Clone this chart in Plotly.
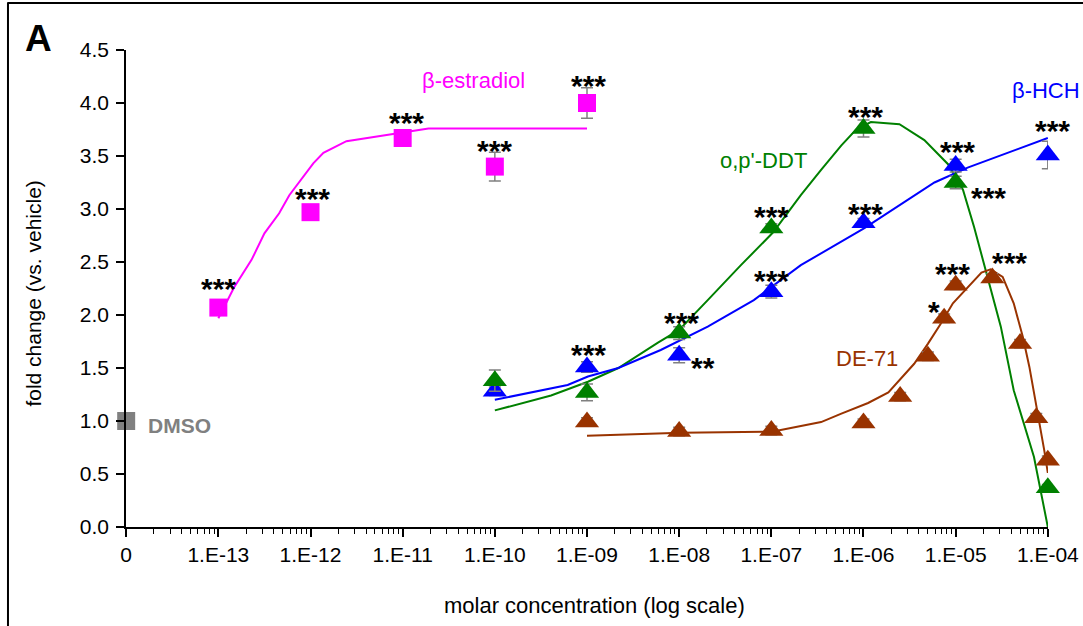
import numpy as np
import plotly.graph_objects as go

# ---- measured responses (fold change vs. vehicle) ----
e2_conc = [1e-13, 1e-12, 1e-11, 1e-10, 1e-9]
e2_fold = [2.07, 2.97, 3.67, 3.40, 4.00]
e2_err = [0.02, 0.02, 0.05, 0.135, 0.145]
e2_sig = ["***", "***", "***", "***", "***"]

ddt_conc = [1e-10, 1e-9, 1e-8, 1e-7, 1e-6, 1e-5, 1e-4]
ddt_fold = [1.38, 1.27, 1.83, 2.82, 3.76, 3.25, 0.37]
ddt_err = [0.10, 0.08, 0.06, 0.04, 0.08, 0.06, 0.03]
ddt_sig = ["", "", "***", "***", "***", "***", ""]

hch_conc = [1e-10, 1e-9, 1e-8, 1e-7, 1e-6, 1e-5, 1e-4]
hch_fold = [1.28, 1.51, 1.62, 2.22, 2.87, 3.41, 3.51]
hch_err = [0.04, 0.05, 0.07, 0.06, 0.04, 0.06, 0.13]
hch_sig = ["", "***", "**", "***", "***", "***", "***"]

de71_conc = [1e-9, 1e-8, 1e-7, 1e-6, 2.5e-6, 5e-6, 7.5e-6, 1e-5, 2.5e-5, 5e-5, 7.5e-5, 1e-4]
de71_fold = [0.99, 0.90, 0.91, 0.98, 1.23, 1.61, 1.97, 2.28, 2.35, 1.73, 1.03, 0.63]
de71_err = [0.04, 0.04, 0.04, 0.04, 0.04, 0.04, 0.04, 0.04, 0.04, 0.04, 0.04, 0.04]
de71_sig = ["", "", "", "", "", "", "*", "***", "***", "", "", ""]

dmso_conc = [1e-14]
dmso_fold = [1.0]

# ---- fitted concentration-response curves (log10 M, fold) ----
e2_fit_logm = [-13.0, -12.83, -12.64, -12.5, -12.34, -12.23, -11.97, -11.86, -11.61, -11.02, -10.72, -9.0]
e2_fit_fold = [1.97, 2.26, 2.52, 2.77, 2.96, 3.13, 3.43, 3.53, 3.64, 3.72, 3.76, 3.76]

ddt_fit_logm = [-10.0, -9.39, -8.99, -8.66, -8.23, -8.0, -7.69, -7.33, -6.98, -6.68, -6.46, -6.24,
                -6.08, -5.92, -5.61, -5.34, -5.08, -4.92, -4.80, -4.67, -4.51, -4.37, -4.15, -4.0]
ddt_fit_fold = [1.10, 1.24, 1.37, 1.50, 1.74, 1.86, 2.14, 2.47, 2.78, 3.13, 3.37, 3.60,
                3.75, 3.82, 3.80, 3.65, 3.42, 3.18, 2.83, 2.40, 1.89, 1.29, 0.66, 0.0]

hch_fit_logm = [-10.0, -9.40, -9.21, -8.99, -8.66, -8.20, -7.69, -7.19, -6.68, -5.99, -5.23, -4.87, -4.0]
hch_fit_fold = [1.20, 1.31, 1.34, 1.42, 1.50, 1.67, 1.89, 2.14, 2.47, 2.82, 3.25, 3.39, 3.67]

de71_fit_logm = [-9.0, -7.98, -6.98, -6.68, -6.46, -6.24, -5.95, -5.73, -5.59, -5.45, -5.30, -5.16,
                 -5.03, -4.87, -4.72, -4.62, -4.49, -4.37, -4.27, -4.20, -4.11, -4.04, -4.0]
de71_fit_fold = [0.86, 0.89, 0.90, 0.95, 0.99, 1.07, 1.17, 1.27, 1.40, 1.54, 1.73, 1.92,
                 2.11, 2.26, 2.40, 2.43, 2.36, 2.11, 1.79, 1.51, 1.08, 0.73, 0.51]

# ---- axis labels ----
x_tick_vals = [1e-14, 1e-13, 1e-12, 1e-11, 1e-10, 1e-9, 1e-8, 1e-7, 1e-6, 1e-5, 1e-4]
x_tick_text = ["0", "1.E-13", "1.E-12", "1.E-11", "1.E-10", "1.E-09",
               "1.E-08", "1.E-07", "1.E-06", "1.E-05", "1.E-04"]
y_tick_vals = [0.0, 0.5, 1.0, 1.5, 2.0, 2.5, 3.0, 3.5, 4.0, 4.5]
y_tick_text = ["0.0", "0.5", "1.0", "1.5", "2.0", "2.5", "3.0", "3.5", "4.0", "4.5"]

FONT = "Arial, Liberation Sans, sans-serif"
MAGENTA = "#FF00FF"
GREEN = "#008000"
BLUE = "#0000FF"
BROWN = "#993300"
GREY = "#808080"

fig = go.Figure()


def fit_line(logm, fold, color):
    fig.add_trace(go.Scatter(
        x=10 ** np.array(logm), y=fold, mode="lines",
        line=dict(color=color, width=2), hoverinfo="skip", cliponaxis=False,
    ))


def points(conc, fold, err, color, symbol, size):
    fig.add_trace(go.Scatter(
        x=conc, y=fold, mode="markers", cliponaxis=False,
        marker=dict(color=color, symbol=symbol, size=size, line=dict(width=0)),
        error_y=dict(type="data", array=err, visible=True, color=GREY, thickness=1.5, width=6),
    ))


fit_line(e2_fit_logm, e2_fit_fold, MAGENTA)
fit_line(ddt_fit_logm, ddt_fit_fold, GREEN)
fit_line(hch_fit_logm, hch_fit_fold, BLUE)
fit_line(de71_fit_logm, de71_fit_fold, BROWN)

points(e2_conc, e2_fold, e2_err, MAGENTA, "square", 18)
points(hch_conc, hch_fold, hch_err, BLUE, "triangle-up", 21)
points(ddt_conc, ddt_fold, ddt_err, GREEN, "triangle-up", 21)
points(de71_conc, de71_fold, de71_err, BROWN, "triangle-up", 21)
points(dmso_conc, dmso_fold, [0], GREY, "square", 18)

annotations = []

# significance marks: (dx, dy) pixel offsets of each label from its point
e2_sig_shift = [(0, 19), (2, 14), (4, 15), (0, 16), (1, 18)]
ddt_sig_shift = [None, None, (2, 11), (0, 12), (2, 12), (33, -15), None]
hch_sig_shift = [None, (1, 12), (24, -12), (0, 11), (2, 9), (2, 14), (5, 24)]
de71_sig_shift = [None] * 6 + [(-10, 7), (-3, 12), (17, 15)] + [None] * 3

for conc, fold, sig, shift in [
    (e2_conc, e2_fold, e2_sig, e2_sig_shift),
    (ddt_conc, ddt_fold, ddt_sig, ddt_sig_shift),
    (hch_conc, hch_fold, hch_sig, hch_sig_shift),
    (de71_conc, de71_fold, de71_sig, de71_sig_shift),
]:
    for c, f, s, sh in zip(conc, fold, sig, shift):
        if not s:
            continue
        annotations.append(dict(
            x=np.log10(c), y=f, xref="x", yref="y", text=s, showarrow=False,
            xshift=sh[0], yshift=sh[1], xanchor="center", yanchor="middle",
            font=dict(family=FONT, size=30, color="black", weight="bold"),
        ))

# series names
series_labels = [
    ("β-estradiol", -10.236, 4.217, MAGENTA, "normal"),
    ("o,p'-DDT", -7.08, 3.46, GREEN, "normal"),
    ("β-HCH", -4.02, 4.12, BLUE, "normal"),
    ("DE-71", -5.963, 1.594, BROWN, "normal"),
    ("DMSO", -13.425, 0.962, GREY, "bold"),
]
for text, lx, ly, color, weight in series_labels:
    annotations.append(dict(
        x=lx, y=ly, xref="x", yref="y", text=text, showarrow=False,
        xanchor="center", yanchor="middle",
        font=dict(family=FONT, size=22 if weight == "normal" else 21, color=color, weight=weight),
    ))

# panel letter and axis titles
annotations.append(dict(
    x=-0.0954, y=1.025, xref="paper", yref="paper", text="A", showarrow=False,
    xanchor="center", yanchor="middle",
    font=dict(family=FONT, size=37, color="black", weight="bold"),
))
annotations.append(dict(
    x=0.508, y=-0.165, xref="paper", yref="paper", text="molar concentration (log scale)",
    showarrow=False, xanchor="center", yanchor="middle",
    font=dict(family=FONT, size=22, color="black"),
))
annotations.append(dict(
    x=-0.1005, y=0.49, xref="paper", yref="paper", text="fold change (vs. vehicle)",
    showarrow=False, xanchor="center", yanchor="middle", textangle=-90,
    font=dict(family=FONT, size=21, color="black"),
))

minor_vals = [k * 10.0 ** d for d in range(-14, -4) for k in range(2, 10)]

fig.update_layout(
    template="none",
    width=1083, height=626,
    margin=dict(l=126, r=35, t=50, b=99, autoexpand=False),
    paper_bgcolor="white", plot_bgcolor="white",
    showlegend=False,
    annotations=annotations,
    shapes=[
        dict(type="line", xref="paper", yref="paper", x0=-0.128, x1=1.1, y0=1.0985, y1=1.0985,
             line=dict(color="black", width=2)),
        dict(type="line", xref="paper", yref="paper", x0=-0.128, x1=-0.128, y0=1.1, y1=-0.22,
             line=dict(color="black", width=2)),
    ],
    xaxis=dict(
        type="log", range=[-14.002, -3.998], automargin=False,
        tickmode="array", tickvals=x_tick_vals, ticktext=x_tick_text,
        ticks="outside", ticklen=8, tickwidth=1.5, tickcolor="black",
        showline=True, linecolor="black", linewidth=1.5,
        showgrid=False, zeroline=False,
        tickfont=dict(family=FONT, size=21, color="black"),
        minor=dict(tickmode="array", tickvals=minor_vals, ticks="outside", ticklen=5,
                   tickwidth=1, tickcolor="black", showgrid=False),
    ),
    yaxis=dict(
        range=[0, 4.5], automargin=False,
        tickmode="array", tickvals=y_tick_vals, ticktext=y_tick_text,
        ticks="outside", ticklen=8, tickwidth=1.5, tickcolor="black",
        showline=True, linecolor="black", linewidth=1.5,
        showgrid=False, zeroline=False,
        ticklabelstandoff=3,
        tickfont=dict(family=FONT, size=21, color="black"),
    ),
)

fig.write_html("out.html")
